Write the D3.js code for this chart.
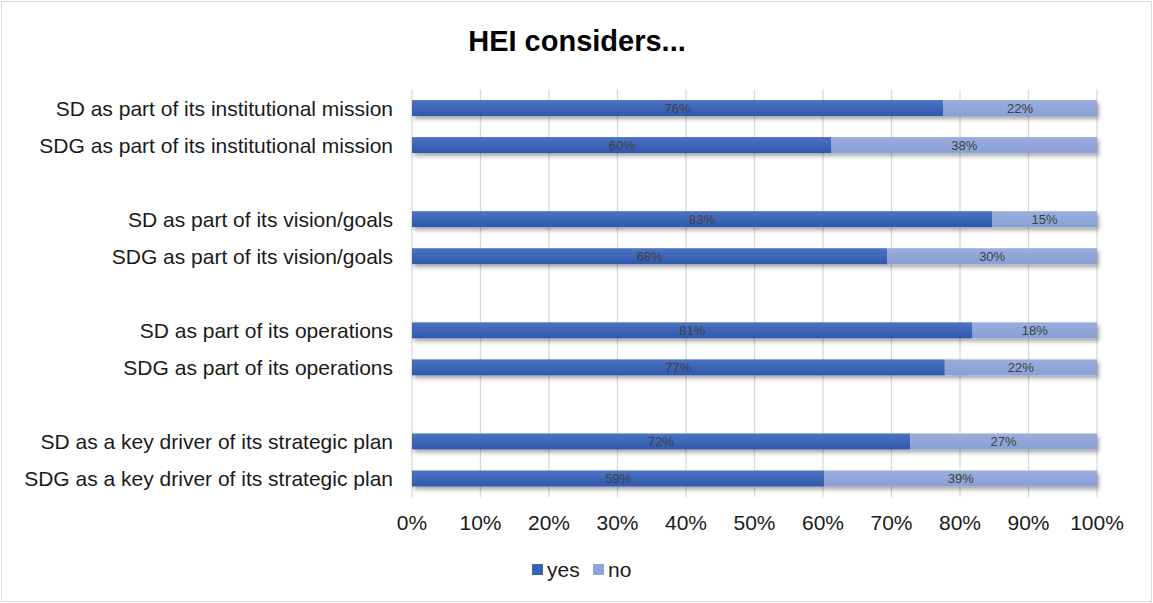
<!DOCTYPE html>
<html>
<head>
<meta charset="utf-8">
<script src="https://cdn.jsdelivr.net/npm/d3@7"></script>
<style>
  body { margin: 0; background: #fff; }
  svg { font-family: "Liberation Sans", Arial, sans-serif; }
</style>
</head>
<body>
<div id="chart"></div>
<script>
// rows top to bottom; blank entries are the empty gap rows between groups
const categories = [
    "SD as part of its institutional mission",
    "SDG as part of its institutional mission",
    "",
    "SD as part of its vision/goals",
    "SDG as part of its vision/goals",
    " ",
    "SD as part of its operations",
    "SDG as part of its operations",
    "  ",
    "SD as a key driver of its strategic plan",
    "SDG as a key driver of its strategic plan"
];
const yesValues = [76, 60, null, 83, 68, null, 81, 77, null, 72, 59];
const noValues = [22, 38, null, 15, 30, null, 18, 22, null, 27, 39];
const seriesNames = ["yes", "no"];
const tickValues = [0, 0.1, 0.2, 0.3, 0.4, 0.5, 0.6, 0.7, 0.8, 0.9, 1];

const W = 1153, H = 603;
const margin = {top: 89.5, right: 56, bottom: 106, left: 412};
const width = W - margin.left - margin.right;
const height = H - margin.top - margin.bottom;

const colors = {yes: "#3a62b8", no: "#8fa5d9"};

const svg = d3.select("#chart")
    .append("svg")
    .attr("width", W)
    .attr("height", H);

// outer frame
svg.append("rect")
    .attr("x", 1.5).attr("y", 1.5)
    .attr("width", W - 3).attr("height", H - 3)
    .attr("fill", "#fff")
    .attr("stroke", "#d9d9d9");

const defs = svg.append("defs");
const shadow = defs.append("filter")
    .attr("id", "shadow")
    .attr("x", "-5%").attr("y", "-50%")
    .attr("width", "110%").attr("height", "250%");
shadow.append("feDropShadow")
    .attr("dx", 2).attr("dy", 3)
    .attr("stdDeviation", 2.2)
    .attr("flood-color", "#000")
    .attr("flood-opacity", 0.35);

const yesGrad = defs.append("linearGradient")
    .attr("id", "yesGrad")
    .attr("x1", "0%").attr("y1", "0%")
    .attr("x2", "0%").attr("y2", "100%");
yesGrad.append("stop").attr("offset", "0%").attr("stop-color", "#4d73c2");
yesGrad.append("stop").attr("offset", "100%").attr("stop-color", "#2e58ae");

const noGrad = defs.append("linearGradient")
    .attr("id", "noGrad")
    .attr("x1", "0%").attr("y1", "0%")
    .attr("x2", "0%").attr("y2", "100%");
noGrad.append("stop").attr("offset", "0%").attr("stop-color", "#9aaedc");
noGrad.append("stop").attr("offset", "100%").attr("stop-color", "#889fd5");

const g = svg.append("g")
    .attr("transform", `translate(${margin.left},${margin.top})`);

const x = d3.scaleLinear()
    .domain([0, 1])
    .range([0, width]);

const y = d3.scaleBand()
    .domain(categories)
    .range([0, height])
    .paddingInner(0.57)
    .paddingOuter(0.285);

// gridlines
g.append("g")
    .selectAll("line")
    .data(tickValues)
    .enter().append("line")
    .attr("x1", d => x(d)).attr("x2", d => x(d))
    .attr("y1", 0).attr("y2", height)
    .attr("stroke", "#d9d9d9")
    .attr("stroke-width", 1.3);

// x tick labels
g.append("g")
    .selectAll("text")
    .data(tickValues)
    .enter().append("text")
    .attr("x", d => x(d))
    .attr("y", height + 32.5)
    .attr("text-anchor", "middle")
    .attr("font-size", "21px")
    .attr("fill", "#1a1a1a")
    .text(d => d3.format(".0%")(d));

// category labels
g.append("g")
    .selectAll("text")
    .data(categories.filter(c => c.trim() !== ""))
    .enter().append("text")
    .attr("x", -19)
    .attr("y", d => y(d) + y.bandwidth() / 2)
    .attr("dy", "0.36em")
    .attr("text-anchor", "end")
    .attr("font-size", "21px")
    .attr("fill", "#1a1a1a")
    .text(d => d);

// stacked 100% bars
const rows = categories.map((c, i) => ({cat: c, yes: yesValues[i], no: noValues[i]}))
    .filter(d => d.yes !== null);

const rowG = g.append("g")
    .selectAll("g")
    .data(rows)
    .enter().append("g")
    .attr("filter", "url(#shadow)");

rowG.each(function (d) {
    const total = d.yes + d.no;
    const yesEnd = d.yes / total;
    const sel = d3.select(this);
    const segs = [
        {name: "yes", v: d.yes, x0: 0, x1: yesEnd},
        {name: "no", v: d.no, x0: yesEnd, x1: 1}
    ];
    sel.selectAll("rect")
        .data(segs)
        .enter().append("rect")
        .attr("x", s => x(s.x0))
        .attr("width", s => x(s.x1) - x(s.x0))
        .attr("y", y(d.cat))
        .attr("height", y.bandwidth())
        .attr("fill", s => s.name === "yes" ? "url(#yesGrad)" : "url(#noGrad)");
});

// data labels (outside the shadow group)
rows.forEach(d => {
    const total = d.yes + d.no;
    const yesEnd = d.yes / total;
    [{v: d.yes, x0: 0, x1: yesEnd}, {v: d.no, x0: yesEnd, x1: 1}].forEach(s => {
        g.append("text")
            .attr("x", (x(s.x0) + x(s.x1)) / 2)
            .attr("y", y(d.cat) + y.bandwidth() / 2)
            .attr("dy", "0.36em")
            .attr("text-anchor", "middle")
            .attr("font-size", "13px")
            .attr("fill", "#404040")
            .text(s.v + "%");
    });
});

// title
svg.append("text")
    .attr("x", 577)
    .attr("y", 51)
    .attr("text-anchor", "middle")
    .attr("font-size", "29px")
    .attr("font-weight", "bold")
    .attr("fill", "#000")
    .text("HEI considers...");

// legend
const legend = svg.append("g")
    .attr("transform", "translate(532,570)");
const legendX = [0, 61];
seriesNames.forEach((name, i) => {
    legend.append("rect")
        .attr("x", legendX[i])
        .attr("y", -6)
        .attr("width", 11)
        .attr("height", 11)
        .attr("fill", colors[name]);
    legend.append("text")
        .attr("x", legendX[i] + 15)
        .attr("y", 7)
        .attr("font-size", "21px")
        .attr("fill", "#1a1a1a")
        .text(name);
});
</script>
</body>
</html>
